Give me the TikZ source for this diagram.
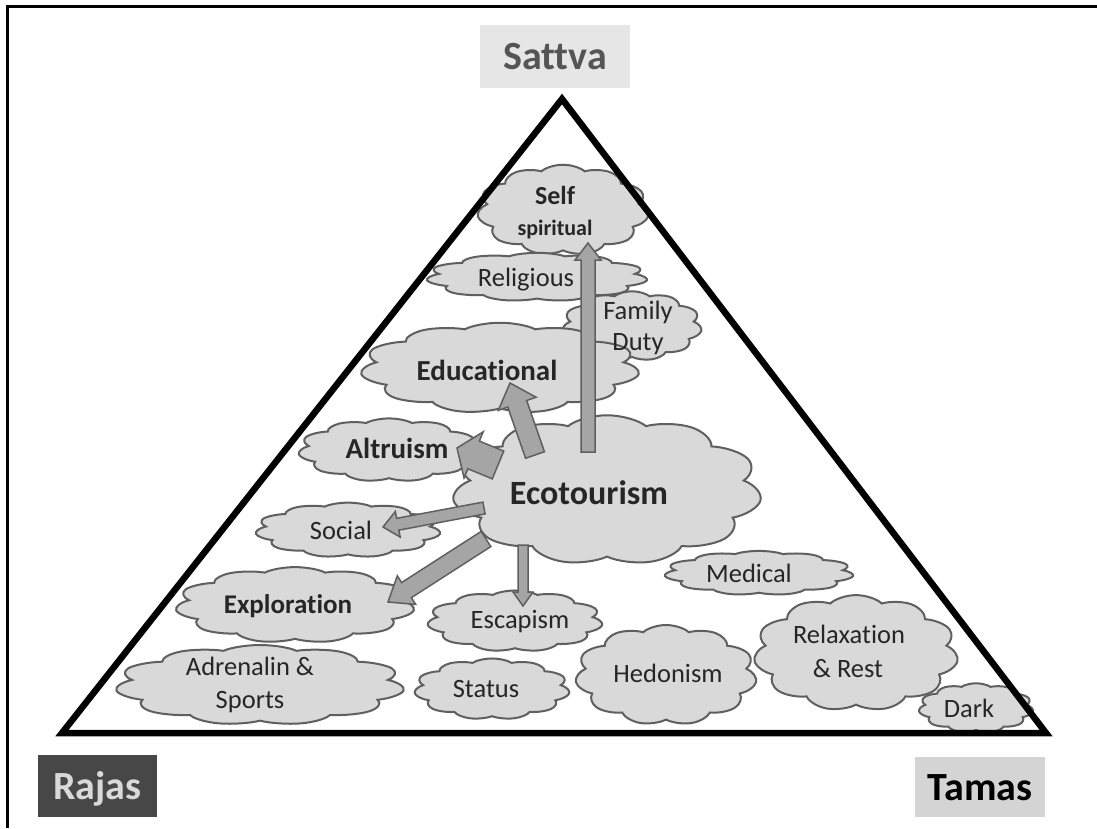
\documentclass[tikz,border=0pt]{standalone}
\usepackage{fontspec}
\setmainfont{Carlito}[Ligatures={NoCommon}]
\usetikzlibrary{shapes.symbols,calc}
\definecolor{cloudfill}{HTML}{D9D9D9}
\definecolor{cloudline}{HTML}{5F5F5F}
\definecolor{arrowfill}{HTML}{A5A5A5}
\definecolor{txt}{HTML}{262626}
\definecolor{sattvabg}{HTML}{E6E6E6}
\definecolor{sattvatx}{HTML}{555555}
\definecolor{rajasbg}{HTML}{474747}
\definecolor{rajastx}{HTML}{D9D9D9}
\definecolor{tamasbg}{HTML}{D4D4D4}
\newcommand\fsz[2]{\fontsize{#1}{#2}\selectfont}
% block arrow: tail, tip, half shaft width, half head width, head length
\newcommand\blockarrow[5]{%
  \path ($(#2)!#5!(#1)$) coordinate (hb);
  \draw[barrow] ($(#1)!#3!90:(#2)$) -- ($(hb)!#3!90:(#2)$) -- ($(hb)!#4!90:(#2)$)
    -- (#2) -- ($(hb)!#4!-90:(#2)$) -- ($(hb)!#3!-90:(#2)$) -- ($(#1)!#3!-90:(#2)$) -- cycle;
}
\tikzset{
  % a round cloud of about 100pt, stretched to the wanted width and height
  cl/.style n args={2}{cloud, cloud puffs=11, cloud puff arc=120, aspect=1,
    minimum width=100pt, minimum height=100pt, inner sep=0pt,
    draw=cloudline, fill=cloudfill, line width=2pt,
    xscale=#1/100, yscale=#2/95, transform shape},
  lbl/.style={text=txt, inner sep=0pt, anchor=base, font=\fsz{26.5}{30}},
  blbl/.style={text=txt, inner sep=0pt, anchor=base, font=\fsz{29}{32}\bfseries},
  barrow/.style={draw=cloudline, fill=arrowfill, line width=1.5pt, line join=miter},
  gbox/.style={inner sep=0pt, font=\fsz{40}{44}\bfseries, text height=26pt, text depth=0pt},
}
\begin{document}
\begin{tikzpicture}[x=1pt,y=-1pt]
\useasboundingbox (0,0) rectangle (1097,828);
% frame
\draw[line width=2.5pt] (7.5,828) -- (7.5,6.5) -- (1097,6.5);

% clouds, back to front
\node[cl={172}{86}] (self) at (563,210) {};
\node[cl={222}{46}, shape border rotate=10] (relig) at (537,277) {};
\node[cl={140}{66}, shape border rotate=20] (family) at (632,326) {};
\node[cl={280}{86}, shape border rotate=5] (edu) at (500,368) {};
\node[cl={182}{60}, shape border rotate=15] (altr) at (389,450) {};
\node[cl={310}{142}] (eco) at (607,490) {};
\node[cl={186}{52}, shape border rotate=8] (social) at (348,530) {};
\node[cl={190}{42}, shape border rotate=12] (medical) at (759,573) {};
\node[cl={240}{72}, shape border rotate=4] (explor) at (295,605) {};
\node[cl={176}{58}, shape border rotate=18] (escap) at (515,621) {};
\node[cl={290}{76}, shape border rotate=9] (adren) at (260,685) {};
\node[cl={156}{58}, shape border rotate=14] (status) at (492,689) {};
\node[cl={182}{95}, shape border rotate=6] (hedon) at (666,675) {};
\node[cl={205}{110}, shape border rotate=16] (relax) at (856,653) {};
\node[cl={115}{47}, shape border rotate=3] (dark) at (976,708) {};

% cloud texts
\node[blbl, font=\fsz{26}{30}\bfseries] (tself) at (555,204) {Self};
\node[blbl, font=\fsz{22}{26}\bfseries] (tspir) at (555,235) {spiritual};
\node[lbl] (trelig) at (526,286) {Religious};
\node[lbl] (tfam) at (638,319) {Family};
\node[lbl] (tduty) at (638,350) {Duty};
\node[blbl] (tedu) at (487,380) {Educational};
\node[blbl] (taltr) at (397,458) {Altruism};
\node[blbl, font=\fsz{34}{38}\bfseries] (teco) at (589,504) {Ecotourism};
\node[lbl] (tsoc) at (341,539) {Social};
\node[blbl, font=\fsz{27}{30}\bfseries] (texp) at (288,613) {Exploration};
\node[lbl] (tesc) at (520,628) {Escapism};
\node[lbl] (tadr) at (250,675) {Adrenalin \&};
\node[lbl] (tspo) at (250,708) {Sports};
\node[lbl] (tsta) at (486,697) {Status};
\node[lbl] (tmed) at (749,582) {Medical};
\node[lbl] (thed) at (668,682) {Hedonism};
\node[lbl] (trel) at (849,643) {Relaxation};
\node[lbl] (trest) at (848,677) {\& Rest};
\node[lbl] (tdark) at (969,717) {Dark};

% arrow end points
\coordinate (upT) at (588,452);  \coordinate (upH) at (588,243);
\coordinate (edT) at (535,455);  \coordinate (edH) at (510,383);
\coordinate (alT) at (498,465);  \coordinate (alH) at (457,448);
\coordinate (soT) at (484,508);  \coordinate (soH) at (383,527);
\coordinate (exT) at (486,539);  \coordinate (exH) at (388,602);
\coordinate (esT) at (523,545);  \coordinate (esH) at (523,606);

\blockarrow{upT}{upH}{7pt}{13pt}{17pt}
\blockarrow{edT}{edH}{10pt}{20pt}{22pt}
\blockarrow{alT}{alH}{15pt}{25pt}{18pt}
\blockarrow{soT}{soH}{6pt}{13pt}{15pt}
\blockarrow{exT}{exH}{9pt}{17pt}{22pt}
\blockarrow{esT}{esH}{5pt}{10pt}{14pt}

% triangle
\draw[line width=6.5pt, line join=miter] (562,99) -- (1046,733) -- (62,733) -- cycle;

% corner labels
\node[gbox, fill=sattvabg, text=sattvatx, minimum width=150pt, minimum height=63pt] (sattva) at (555,56.5) {Sattva};
\node[gbox, fill=rajasbg, text=rajastx, minimum width=119pt, minimum height=62pt] (rajas) at (97.5,786) {Rajas};
\node[gbox, fill=tamasbg, text=black, minimum width=130pt, minimum height=60pt] (tamas) at (980,787) {Tamas};
\end{tikzpicture}
\end{document}
